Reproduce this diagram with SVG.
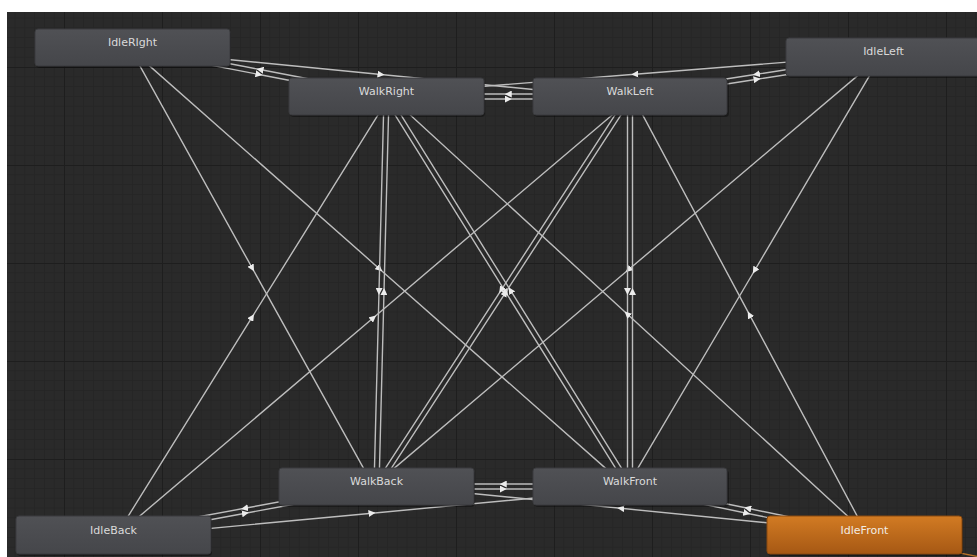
<svg xmlns="http://www.w3.org/2000/svg" width="977" height="557" viewBox="0 0 977 557">
<defs>
<pattern id="grid" x="64" y="67" width="98" height="98" patternUnits="userSpaceOnUse">
<rect width="98" height="98" fill="#2a2a2a"/>
<path d="M9.8 0V98M19.6 0V98M29.4 0V98M39.2 0V98M49 0V98M58.8 0V98M68.6 0V98M78.4 0V98M88.2 0V98M0 9.8H98M0 19.6H98M0 29.4H98M0 39.2H98M0 49H98M0 58.8H98M0 68.6H98M0 78.4H98M0 88.2H98" stroke="#252525" stroke-width="1" fill="none"/>
<path d="M0.5 0V98M0 0.5H98" stroke="#1e1e1e" stroke-width="1" fill="none"/>
</pattern>
<linearGradient id="gGray" x1="0" y1="0" x2="0" y2="1">
<stop offset="0" stop-color="#505155"/>
<stop offset="1" stop-color="#45464a"/>
</linearGradient>
<linearGradient id="gOrange" x1="0" y1="0" x2="0" y2="1">
<stop offset="0" stop-color="#d27b23"/>
<stop offset="1" stop-color="#a65814"/>
</linearGradient>
<marker id="arr" viewBox="0 0 8 8" refX="4" refY="4" markerWidth="7" markerHeight="7" markerUnits="userSpaceOnUse" orient="auto">
<path d="M0 0L8 4L0 8z" fill="#ececec"/>
</marker>
<style>
.t{fill:none;stroke:#bdbdbd;stroke-width:1.4;marker-mid:url(#arr)}
.n{fill:url(#gGray);stroke:#3a3b3e;stroke-width:1}
.o{fill:url(#gOrange);stroke:#8a4a10;stroke-width:1}
.sh{fill:#000;opacity:0.35}
.lbl{font-family:"DejaVu Sans","Liberation Sans",sans-serif;font-size:11px;fill:#dadada;text-anchor:middle}
.lblo{font-family:"DejaVu Sans","Liberation Sans",sans-serif;font-size:11px;fill:#f2ece4;text-anchor:middle}
</style>
</defs>
<rect width="977" height="557" fill="#ffffff"/>
<rect x="7" y="12" width="970" height="545" fill="url(#grid)"/>
<g id="connectors">
<path class="t" d="M132 49.95L259 74.45L386 98.95"/>
<path class="t" d="M387 94.05L260 69.55L133 45.05"/>
<path class="t" d="M132.25 49.99L381 74.5L629.75 98.99"/>
<path class="t" d="M130.3 48.7L252.3 268.2L374.3 487.7"/>
<path class="t" d="M130.85 49.37L379.6 268.9L628.35 488.37"/>
<path class="t" d="M630 94L508.25 94L386.5 94"/>
<path class="t" d="M386.5 99L508.25 99L630 99"/>
<path class="t" d="M883.3 54.5L634.8 74.3L386.3 94"/>
<path class="t" d="M883.1 54.5L756.4 74.3L629.6 94"/>
<path class="t" d="M630.4 98.97L757.1 79.2L883.9 59.47"/>
<path class="t" d="M881.9 55.1L628.4 269.8L374.9 484.6"/>
<path class="t" d="M881.35 55.73L754.6 270.5L627.85 485.23"/>
<path class="t" d="M384 96.44L379 291.4L374 486.44"/>
<path class="t" d="M379 486.56L384 291.6L389 96.56"/>
<path class="t" d="M384.38 97.82L506.1 292.8L627.88 487.82"/>
<path class="t" d="M632.12 485.18L510.4 290.2L388.62 95.18"/>
<path class="t" d="M627.9 95.14L501.15 290.1L374.4 485.14"/>
<path class="t" d="M378.6 487.86L505.35 292.9L632.1 97.86"/>
<path class="t" d="M627.5 96.5L627.5 291.5L627.5 486.5"/>
<path class="t" d="M632.5 486.5L632.5 291.5L632.5 96.5"/>
<path class="t" d="M376.5 489L503.25 489L630 489"/>
<path class="t" d="M630 484L503.25 484L376.5 484"/>
<path class="t" d="M113.95 537.46L245.45 513.2L376.95 488.96"/>
<path class="t" d="M376.05 484.04L244.55 508.3L113.05 532.54"/>
<path class="t" d="M115.62 536.32L252.1 317.1L388.62 97.82"/>
<path class="t" d="M115.12 536.91L373.4 317.7L631.62 98.41"/>
<path class="t" d="M113.73 537.49L372 513.2L630.23 488.99"/>
<path class="t" d="M865 532.55L747.75 508.3L630.5 484.05"/>
<path class="t" d="M629.5 488.95L746.75 513.2L864 537.45"/>
<path class="t" d="M864.75 532.51L620.75 508.3L376.75 484.01"/>
<path class="t" d="M866.19 533.16L627.2 313.9L388.19 94.66"/>
<path class="t" d="M866.7 533.82L749.45 314.6L632.2 95.32"/>
<path d="M900 541L990 559" stroke="#b8722a" stroke-width="1.4" fill="none"/>
</g>
<g id="IdleRIght">
<rect class="sh" x="36" y="31" width="195" height="37" rx="4"/>
<rect class="n" x="35" y="29" width="195" height="37" rx="3"/>
<text class="lbl" x="132.5" y="46">IdleRIght</text>
</g>
<g id="WalkRight">
<rect class="sh" x="290" y="80" width="195" height="37" rx="4"/>
<rect class="n" x="289" y="78" width="195" height="37" rx="3"/>
<text class="lbl" x="386.5" y="95">WalkRight</text>
</g>
<g id="WalkLeft">
<rect class="sh" x="534" y="80" width="195" height="37" rx="4"/>
<rect class="n" x="533" y="78" width="194" height="37" rx="3"/>
<text class="lbl" x="630" y="95">WalkLeft</text>
</g>
<g id="IdleLeft">
<rect class="sh" x="787" y="40" width="195" height="38" rx="4"/>
<rect class="n" x="786" y="38" width="195" height="38" rx="3"/>
<text class="lbl" x="883.5" y="55">IdleLeft</text>
</g>
<g id="WalkBack">
<rect class="sh" x="280" y="470" width="195" height="37" rx="4"/>
<rect class="n" x="279" y="468" width="195" height="37" rx="3"/>
<text class="lbl" x="376.5" y="485">WalkBack</text>
</g>
<g id="WalkFront">
<rect class="sh" x="534" y="470" width="195" height="37" rx="4"/>
<rect class="n" x="533" y="468" width="194" height="37" rx="3"/>
<text class="lbl" x="630" y="485">WalkFront</text>
</g>
<g id="IdleBack">
<rect class="sh" x="17" y="518" width="195" height="38" rx="4"/>
<rect class="n" x="16" y="516" width="195" height="38" rx="3"/>
<text class="lbl" x="113.5" y="534">IdleBack</text>
</g>
<g id="IdleFront">
<rect class="sh" x="768" y="518" width="195" height="38" rx="4"/>
<rect class="o" x="767" y="516" width="195" height="38" rx="3"/>
<text class="lblo" x="864.5" y="534">IdleFront</text>
</g>
</svg>
